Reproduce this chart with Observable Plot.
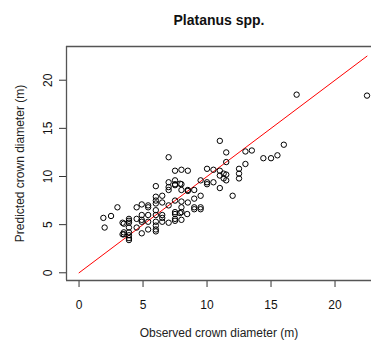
<!DOCTYPE html>
<html>
<head>
<meta charset="utf-8">
<script src="https://cdn.jsdelivr.net/npm/d3@7"></script>
<script src="https://cdn.jsdelivr.net/npm/@observablehq/plot@0.6"></script>
<style>
html, body { margin: 0; padding: 0; background: #fff; overflow: hidden; }
svg { display: block; }
</style>
</head>
<body>
<div id="chart"></div>
<script>
const title = "Platanus spp.";
const xLabel = "Observed crown diameter (m)";
const yLabel = "Predicted crown diameter (m)";
const xTicks = [0, 5, 10, 15, 20];
const yTicks = [0, 5, 10, 15, 20];

// observed crown diameter (m)
const observed = [
  1.9, 2.0, 2.5, 3.0, 3.5, 3.5, 3.5, 3.9, 3.9, 3.9, 3.9, 3.9,
  4.5, 4.5, 4.5, 4.9, 4.9, 4.9, 4.9, 5.4, 5.4, 5.4, 5.4,
  6.0, 6.0, 6.0, 6.0, 6.0, 6.0, 6.0, 6.0, 6.0, 6.5, 6.5, 6.5, 6.5,
  7.0, 7.0, 7.0, 7.0, 7.0, 7.5, 7.5, 7.5, 7.5, 7.5, 7.5, 7.5, 7.5,
  8.0, 8.0, 8.0, 8.0, 8.0, 8.0, 8.0, 8.5, 8.5, 8.5, 8.5,
  9.0, 9.0, 9.0, 9.5, 9.5, 9.5, 9.5, 10.0, 10.0, 10.5, 10.5,
  11.0, 11.0, 11.0, 11.0, 11.5, 11.5, 11.5, 11.5, 12.0,
  12.5, 12.5, 12.5, 13.0, 13.5, 13.0, 14.4, 15.0, 15.5, 16.0, 17.0, 22.5,
  5.4, 3.9, 3.4, 3.4, 3.9, 3.9, 4.9, 6.5, 6.0,
  7.0, 7.9, 7.5, 10.0, 11.3, 11.3, 8.45, 7.9, 9.0
];
// predicted crown diameter (m)
const predicted = [
  5.7, 4.7, 5.9, 6.8, 5.1, 4.2, 4.0, 5.6, 5.4, 4.7, 3.9, 3.6,
  6.8, 5.6, 4.7, 7.1, 6.0, 5.5, 4.1, 6.8, 6.0, 5.3, 4.5,
  9.0, 7.9, 7.5, 7.2, 6.5, 6.0, 4.9, 4.5, 4.3, 8.0, 7.3, 6.0, 5.7,
  12.0, 9.4, 8.6, 7.0, 5.2, 10.6, 9.6, 9.2, 7.5, 6.3, 6.1, 5.6, 5.4,
  10.7, 9.2, 8.6, 7.4, 6.8, 6.3, 5.5, 10.6, 8.6, 8.5, 7.3,
  8.6, 7.7, 6.8, 9.6, 8.0, 6.8, 6.6, 10.8, 9.2, 10.7, 9.4,
  13.7, 10.6, 10.1, 8.8, 12.5, 11.5, 10.2, 9.6, 8.0,
  10.8, 10.3, 9.8, 12.6, 12.7, 11.3, 11.9, 11.9, 12.2, 13.3, 18.5, 18.4,
  7.0, 5.2, 5.2, 4.0, 4.2, 3.4, 5.3, 5.3, 5.3,
  8.9, 9.25, 9.1, 9.4, 10.3, 9.8, 6.1, 6.2, 6.6
];
// 1:1 reference line
const lineX = [0, 22.5];
const lineY = [0, 22.5];

const points = observed.map((o, i) => ({o, p: predicted[i]}));
const line = lineX.map((x, i) => ({x, y: lineY[i]}));

const font = "'Liberation Sans', Arial, sans-serif";

const chart = Plot.plot({
  width: 371,
  height: 342,
  marginLeft: 66,
  marginRight: 0,
  marginTop: 46,
  marginBottom: 62,
  style: {fontFamily: font, fontSize: "12px", background: "#fff", color: "#000"},
  x: {domain: [-0.98, 22.85], label: null},
  y: {domain: [-0.8, 23.5], label: null},
  marks: [
    Plot.axisX({ticks: xTicks, tickSize: 7, tickFormat: () => "", label: null, stroke: "#333"}),
    Plot.axisY({ticks: yTicks, tickSize: 7, tickFormat: () => "", label: null, stroke: "#333"}),
    Plot.text(xTicks, {x: d => d, frameAnchor: "bottom", dy: 25, lineAnchor: "middle", textAnchor: "middle", text: d => String(d), fontSize: 12, fill: "#111"}),
    Plot.text(yTicks, {y: d => d, frameAnchor: "left", dx: -18, rotate: -90, lineAnchor: "middle", textAnchor: "middle", text: d => String(d), fontSize: 12, fill: "#111"}),
    Plot.line(line, {x: "x", y: "y", stroke: "#ff0000", strokeWidth: 1}),
    Plot.dot(points, {x: "o", y: "p", r: 2.7, stroke: "#000", strokeWidth: 1, fill: "none"}),
    Plot.ruleY([-0.8, 23.5], {stroke: "#555", strokeWidth: 1.3}),
    Plot.ruleX([-0.98], {stroke: "#555", strokeWidth: 1.3}),
    Plot.text([title], {frameAnchor: "top", dy: -26, lineAnchor: "middle", textAnchor: "middle", text: d => d, fontSize: 14, fontWeight: "bold", fill: "#111"}),
    Plot.text([xLabel], {frameAnchor: "bottom", dy: 53, lineAnchor: "middle", textAnchor: "middle", text: d => d, fontSize: 12, fill: "#222"}),
    Plot.text([yLabel], {frameAnchor: "left", dx: -46, rotate: -90, lineAnchor: "middle", textAnchor: "middle", text: d => d, fontSize: 12, fill: "#222"})
  ]
});
document.getElementById("chart").appendChild(chart);
</script>
</body>
</html>
